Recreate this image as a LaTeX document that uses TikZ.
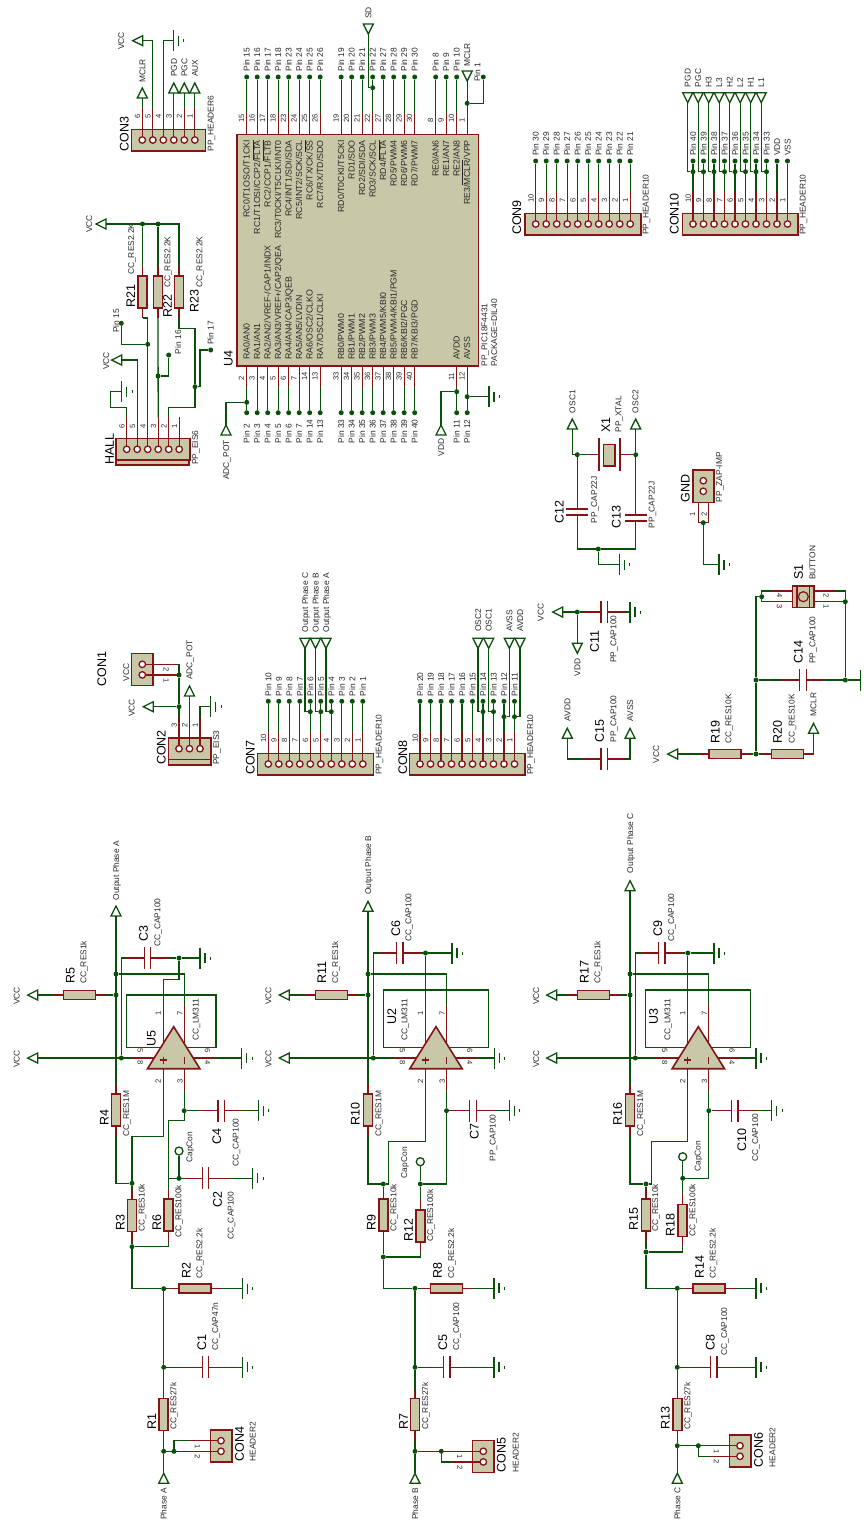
\documentclass[tikz,border=0pt]{standalone}
\usepackage{fontspec}
\setmainfont{Liberation Sans}
\usepackage{tikz}
\definecolor{wirecol}{RGB}{10,80,10}
\definecolor{pincol}{RGB}{135,20,20}
\definecolor{bodycol}{RGB}{200,200,168}
\definecolor{txtcol}{RGB}{40,40,40}
\tikzset{
    wire/.style={draw=wirecol, line width=1.3pt},
    pinline/.style={draw=pincol, line width=1.3pt},
    bodyline/.style={draw=pincol, fill=bodycol, line width=1.6pt},
    bodybox/.style={draw=pincol, fill=bodycol, line width=1.6pt, inner sep=0pt},
    termline/.style={draw=wirecol, fill=white, line width=1.3pt},
    dot/.style={circle, fill=wirecol, inner sep=0pt, minimum size=5pt},
    hole/.style={circle, draw=pincol, fill=white, line width=1.3pt, inner sep=0pt, minimum size=6.5pt},
    hollow/.style={circle, draw=wirecol, fill=white, line width=1.3pt, inner sep=0pt, minimum size=8pt},
    valtxt/.style={rotate=90, anchor=west, inner sep=0pt, text=txtcol, text height=6pt, text depth=0pt, font=\fontsize{8.4}{10}\selectfont},
    pintxt/.style={rotate=90, anchor=west, inner sep=0pt, text=txtcol, text height=6pt, text depth=0pt, font=\fontsize{8.8}{10}\selectfont},
    pinend/.style={pintxt, anchor=east},
    reftxt/.style={rotate=90, anchor=west, inner sep=0pt, text=black, text height=9pt, text depth=0pt, font=\fontsize{12.5}{14}\selectfont},
    numtxt/.style={rotate=90, anchor=west, inner sep=0pt, text=txtcol, text height=5pt, text depth=0pt, font=\fontsize{7.6}{9}\selectfont},
    numup/.style={numtxt, anchor=center},
    numdown/.style={rotate=270, anchor=center, inner sep=0pt, text=txtcol, text height=5pt, text depth=0pt, font=\fontsize{7.6}{9}\selectfont},
}
\newcommand{\resh}[3]{%
    \draw[pinline] (#2-26,#3) coordinate (#1a) -- (#2+26,#3) coordinate (#1b);
    \node[bodybox, minimum width=32pt, minimum height=9pt] (#1) at (#2,#3) {};}
\newcommand{\resv}[3]{%
    \draw[pinline] (#2,#3-26) coordinate (#1a) -- (#2,#3+26) coordinate (#1b);
    \node[bodybox, minimum width=9pt, minimum height=32pt] (#1) at (#2,#3) {};}
\newcommand{\caph}[3]{%
    \draw[pinline] (#2-21.2,#3) coordinate (#1a) -- (#2-3.2,#3) (#2-3.2,#3-11) -- (#2-3.2,#3+11);
    \draw[pinline] (#2+21.2,#3) coordinate (#1b) -- (#2+3.2,#3) (#2+3.2,#3-11) -- (#2+3.2,#3+11);}
\newcommand{\capv}[3]{%
    \draw[pinline] (#2,#3-21) coordinate (#1a) -- (#2,#3-3) (#2-11,#3-3) -- (#2+11,#3-3);
    \draw[pinline] (#2,#3+21) coordinate (#1b) -- (#2,#3+3) (#2-11,#3+3) -- (#2+11,#3+3);}
\newcommand{\gnd}[3]{%
    \coordinate (#1) at (#2,#3);
    \draw[wire] (#2,#3-10.5) -- (#2,#3+10.5);
    \draw[wire] (#2+5,#3-5) -- (#2+5,#3+5);
    \draw[wire] (#2+10.5,#3-1.5) -- (#2+10.5,#3+1.5);}
\newcommand{\termout}[5]{%
    \coordinate (#1) at (#2,#3);
    \draw[termline] ({#2+5*#5},{#3+5*#4}) -- ({#2+10*#4},{#3+10*#5}) -- ({#2-5*#5},{#3-5*#4}) -- cycle;}
\newcommand{\termin}[5]{%
    \coordinate (#1) at (#2,#3);
    \draw[termline] ({#2+10*#4+5*#5},{#3+10*#5+5*#4}) -- (#2,#3) -- ({#2+10*#4-5*#5},{#3+10*#5-5*#4}) -- cycle;}
\newcommand{\conn}[4]{%
    \draw[bodyline] (#2-10.7,#3-10.7) rectangle ({#2+(#4-1)*10.5+10.7},#3+10.7);
    \foreach \kk in {1,...,#4}{
        \pgfmathtruncatemacro{\nn}{#4-\kk+1}
        \pgfmathsetmacro{\px}{#2+(\kk-1)*10.5}
        \draw[pinline] (\px,#3) -- (\px,#3-32) coordinate (#1-\nn);
        \node[hole] (#1h\nn) at (\px,#3) {};
        \node[numtxt] (#1n\nn) at (\px-4.7,#3-21) {\nn};
    }}
\newcommand{\connh}[6]{%
    \pgfmathsetmacro{\ylow}{#3+10.6}
    \pgfmathsetmacro{\xnum}{#2+sign(#4)*23.7}
    \draw[bodyline] (#2-10.7,#3-10.7) rectangle (#2+10.7,\ylow+10.7);
    \draw[pinline] (#2,#3) -- ++(#4,0) coordinate (#1-#5);
    \draw[pinline] (#2,\ylow) -- ++(#4,0) coordinate (#1-#6);
    \node[hole] (#1h#5) at (#2,#3) {};
    \node[hole] (#1h#6) at (#2,\ylow) {};
    \node[numdown] (#1n#5) at (\xnum,#3+5.5) {#5};
    \node[numdown] (#1n#6) at (\xnum,\ylow+5.5) {#6};}
\newcommand{\opamp}[2]{%
    \draw[pinline] (#2-10.5,1044) -- (#2-10.5,1005) coordinate (#1-1);
    \draw[pinline] (#2+10.5,1044) -- (#2+10.5,1005) coordinate (#1-7);
    \draw[pinline] (#2-10.5,1068) -- (#2-10.5,1089.5) coordinate (#1-2);
    \draw[pinline] (#2+10.5,1068) -- (#2+10.5,1089.5) coordinate (#1-3);
    \draw[pinline] (#2-12,1047.3) -- (#2-42,1047.3) coordinate (#1-5);
    \draw[pinline] (#2+12,1047.3) -- (#2+42,1047.3) coordinate (#1-6);
    \draw[pinline] (#2-19,1058) -- (#2-42,1058) coordinate (#1-8);
    \draw[pinline] (#2+19,1058) -- (#2+42,1058) coordinate (#1-4);
    \draw[bodyline] (#2,1026.7) -- (#2-26.2,1068.7) -- (#2+26.2,1068.7) -- cycle;
    \draw[pinline] (#2-14,1060) -- (#2-7,1060) (#2-10.5,1056.5) -- (#2-10.5,1063.5);
    \draw[pinline] (#2+10.5,1056.5) -- (#2+10.5,1063.5);
    \node[numup] (#1n1) at (#2-15.4,1013) {1};
    \node[numup] (#1n7) at (#2+6.3,1013) {7};
    \node[numup] (#1n2) at (#2-15.4,1081.7) {2};
    \node[numup] (#1n3) at (#2+6.3,1081.7) {3};
    \node[numdown] (#1n5) at (#2-33.7,1051) {5};
    \node[numdown] (#1n8) at (#2-33.7,1062.7) {8};
    \node[numdown] (#1n6) at (#2+33.6,1051) {6};
    \node[numdown] (#1n4) at (#2+33.6,1062.7) {4};}
\newcommand{\parttext}[6]{%
    \node[reftxt] (#1ref) at (#2,#3) {#1};
    \node[valtxt] (#1val) at (#4,#5) {#6};}
\newcommand{\pinrow}[5]{%
    \node[dot] (#1d#2) at (#1-#2 |- 0,#3) {};
    \draw[wire] (#1-#2) -- (#1d#2);
    \node[valtxt] (#1t#2) at (#1d#2 |- 0,#4) {#5};}

\begin{document}
\begin{tikzpicture}[x=1pt, y=-1pt]
    \useasboundingbox (0,0) rectangle (863,1521);

    \node[bodybox, minimum width=241.6pt, minimum height=231.4pt] (U4) at (357.5,250) {};
    \foreach \kk/\pn/\pname in {0/15/{RC0/T1OSO/T1CKI}, 1/16/{RC1/T1OSI/CCP2/$\overline{\mbox{FLTA}}$},
        2/17/{RC2/CCP1/$\overline{\mbox{FLTB}}$}, 3/18/{RC3/T0CKI/T5CLKI/INT0}, 4/23/{RC4/INT1/SDI/SDA},
        5/24/{RC5/INT2/SCK/SCL}, 6/25/{RC6/TX/CK/$\overline{\mbox{SS}}$}, 7/26/{RC7/RX/TD/SDO},
        9/19/{RD0/T0CKI/T5CKI}, 10/20/{RD1/SDO}, 11/21/{RD2/SDI/SDA}, 12/22/{RD3/SCK/SCL},
        13/27/{RD4/$\overline{\mbox{FLTA}}$}, 14/28/{RD5/PWM4}, 15/29/{RD6/PWM6}, 16/30/{RD7/PWM7},
        18/8/{RE0/AN6}, 19/9/{RE1/AN7}, 20/10/{RE2/AN8}}{
        \pgfmathsetmacro{\px}{246.7+\kk*10.5}
        \draw[pinline] (\px,134.3) -- (\px,113.3) coordinate (U4-\pn);
        \node[numtxt] (U4n\pn) at (\px-5,123) {\pn};
        \node[pinend] (U4t\pn) at (\px,140) {\pname};
        \node[dot] (p\pn) at (\px,77) {};
        \draw[wire] (U4-\pn) -- (p\pn);
        \node[valtxt] (pl\pn) at (\px,71.7) {Pin \pn};
    }
    \foreach \kk/\pn/\pname in {0/2/{RA0/AN0}, 1/3/{RA1/AN1}, 2/4/{RA2/AN2/VREF-/CAP1/INDX},
        3/5/{RA3/AN3/VREF+/CAP2/QEA}, 4/6/{RA4/AN4/CAP3/QEB}, 5/7/{RA5/AN5/LVDIN},
        6/14/{RA6/OSC2/CLKO}, 7/13/{RA7/OSC1/CLKI}, 9/33/{RB0/PWM0}, 10/34/{RB1/PWM1},
        11/35/{RB2/PWM2}, 12/36/{RB3/PWM3}, 13/37/{RB4/PWM5/KBI0}, 14/38/{RB5/PWM4/KBI1/PGM},
        15/39/{RB6/KBI2/PGC}, 16/40/{RB7/KBI3/PGD}, 20/11/{AVDD}, 21/12/{AVSS}}{
        \pgfmathsetmacro{\px}{246.7+\kk*10.5}
        \draw[pinline] (\px,365.7) -- (\px,386.7) coordinate (U4-\pn);
        \node[numtxt] (U4n\pn) at (\px-5,381) {\pn};
        \node[pintxt] (U4t\pn) at (\px,360) {\pname};
        \node[dot] (p\pn) at (\px,412.7) {};
        \draw[wire] (U4-\pn) -- (p\pn);
        \node[valtxt] (pl\pn) at (\px,443.5) {Pin \pn};
    }
    \draw[pinline] (467.2,134.3) -- (467.2,113.3) coordinate (U4-1);
    \node[numtxt] (U4n1) at (462.2,123) {1};
    \node[pinend] (U4t1) at (467.2,140) {RE3/$\overline{\mbox{MCLR}}$/VPP};
    \node[reftxt] (U4ref) at (228,367) {U4};
    \node[valtxt] (U4val) at (484.3,366.7) {PP\_PIC18F4431};
    \node[valtxt] (U4pkg) at (494,366.7) {PACKAGE=DIL40};

    \termin{sdT}{368.3}{34}{0}{-1}
    \node[dot] (jSD) at (U4-22 |- 0,87.7) {};
    \draw[wire] (sdT) |- (jSD);
    \node[valtxt] (sdL) at (368.3,19) {SD};
    \termin{mclrT}{467.2}{81}{0}{-1}
    \node[dot] (jP1) at (467.2,103.3) {};
    \node[dot] (p1) at (483.3,77) {};
    \draw[wire] (mclrT) -- (U4-1);
    \draw[wire] (jP1) -| (p1);
    \node[valtxt] (mclrL) at (467.2,67) {MCLR};
    \node[valtxt] (pl1) at (477.3,82) {Pin 1};
    \termin{adcT}{226}{425}{0}{1}
    \node[dot] (jADC) at (U4-2 |- 0,402.3) {};
    \draw[wire] (adcT) |- (jADC);
    \node[valtxt] (adcL) at (226,480) {ADC\_POT};
    \termin{vddT}{441}{425}{0}{1}
    \node[dot] (jVDD) at (U4-11 |- 0,391.7) {};
    \draw[wire] (vddT) |- (jVDD);
    \node[valtxt] (vddL) at (441,456.7) {VDD};
    \gnd{gU4}{489}{396.7}
    \node[dot] (jVSS) at (U4-12 |- 0,396.7) {};
    \draw[wire] (jVSS) -- (gU4);

    \conn{CON3}{142.3}{140}{6}
    \parttext{CON3}{124}{151.7}{210.7}{151.7}{PP\_HEADER6}
    \termout{mclr3}{142.3}{98}{0}{-1}
    \termout{vcc3}{142.7}{40.7}{-1}{0}
    \gnd{g3}{173.3}{40.7}
    \termout{pgd3}{173.8}{93}{0}{-1}
    \termout{pgc3}{184.3}{93}{0}{-1}
    \termout{aux3}{194.8}{93}{0}{-1}
    \draw[wire] (CON3-6) -- (mclr3);
    \draw[wire] (CON3-5) |- (vcc3);
    \draw[wire] (CON3-4) |- (g3);
    \draw[wire] (CON3-3) -- (pgd3);
    \draw[wire] (CON3-2) -- (pgc3);
    \draw[wire] (CON3-1) -- (aux3);
    \node[valtxt] (mclr3L) at (142.3,83) {MCLR};
    \node[valtxt] (vcc3L) at (121,50) {VCC};
    \node[valtxt] (pgd3L) at (173.8,77) {PGD};
    \node[valtxt] (pgc3L) at (184.3,77) {PGC};
    \node[valtxt] (aux3L) at (194.8,77) {AUX};

    \conn{HALL}{126.7}{449.3}{6}
    \draw[bodyline] (116,460) rectangle (189.2,465);
    \parttext{HALL}{109.3}{465}{195}{465}{PP\_EIS6}
    \resv{R21}{142.5}{292}
    \resv{R22}{158}{292}
    \resv{R23}{179}{292}
    \parttext{R21}{130.7}{308}{131}{275}{CC\_RES2.2K}
    \parttext{R22}{167.3}{318}{167.3}{288}{CC\_RES2.2K}
    \parttext{R23}{194}{313}{199.3}{288}{CC\_RES2.2K}
    \termout{vccR}{106}{224}{-1}{0}
    \node[valtxt] (vccRL) at (89,233) {VCC};
    \node[dot] (jH1) at (142.5,224) {};
    \node[dot] (jH2) at (158,224) {};
    \draw[wire] (vccR) -| (R23a);
    \draw[wire] (jH1) -- (R21a);
    \draw[wire] (jH2) -- (R22a);
    \gnd{gHall}{121.7}{391.7}
    \coordinate (hA) at (110.7,407.3);
    \draw[wire] (HALL-6) |- (hA) |- (gHall);
    \termout{vccH}{121.7}{360}{-1}{0}
    \node[valtxt] (vccHL) at (106,370) {VCC};
    \draw[wire] (HALL-5) |- (vccH);
    \node[dot] (jH3) at (147.7,344.3) {};
    \node[dot] (h15) at (121.3,323.3) {};
    \node[valtxt] (h15L) at (116,333) {Pin 15};
    \draw[wire] (R21b) -| (HALL-4);
    \draw[wire] (jH3) -| (h15);
    \node[dot] (jH4) at (158,376) {};
    \node[dot] (h16) at (168.7,355) {};
    \node[valtxt] (h16L) at (178,354.3) {Pin 16};
    \draw[wire] (R22b) -- (HALL-3);
    \draw[wire] (jH4) -| (h16);
    \node[dot] (jH5) at (195,386.7) {};
    \node[dot] (h17) at (210.7,350) {};
    \node[valtxt] (h17L) at (210.7,345) {Pin 17};
    \coordinate (hB) at (195,328.3);
    \coordinate (hC) at (195,407.3);
    \coordinate (hD) at (200,386.7);
    \draw[wire] (R23b) |- (hB) -- (jH5);
    \draw[wire] (HALL-2) |- (hC) -- (jH5);
    \draw[wire] (jH5) -- (hD) |- (h17);

    \conn{CON9}{535.7}{224}{10}
    \parttext{CON9}{516.7}{235}{645.7}{235}{PP\_HEADER10}
    \foreach \kk in {1,...,10}{
        \pgfmathtruncatemacro{\pp}{\kk+20}
        \pinrow{CON9}{\kk}{161}{156}{Pin \pp}
    }
    \conn{CON10}{693}{224}{10}
    \parttext{CON10}{674}{235}{802.7}{235}{PP\_HEADER10}
    \foreach \kk in {3,...,10}{
        \pgfmathtruncatemacro{\pp}{\kk+30}
        \pinrow{CON10}{\kk}{161}{156}{Pin \pp}
    }
    \pinrow{CON10}{2}{161}{156}{VDD}
    \pinrow{CON10}{1}{161}{156}{VSS}
    \foreach \kk/\xx/\nm in {10/687.7/PGD, 9/698.2/PGC, 8/708.7/H3, 7/719.2/L3, 6/729.7/H2, 5/740.2/L2, 4/750.7/H1, 3/761.2/L1}{
        \termin{t10\kk}{\xx}{102.7}{0}{-1}
        \node[dot] (j10\kk) at (CON10-\kk |- 0,171.7) {};
        \draw[wire] (t10\kk) |- (j10\kk);
        \node[valtxt] (t10\kk L) at (\xx,87.3) {\nm};
    }

    \connh{CON1}{142.3}{664.3}{36.7}{2}{1}
    \node[reftxt] (CON1ref) at (101.7,686.7) {CON1};
    \node[valtxt] (CON1val) at (126,681.7) {VCC};
    \conn{CON2}{179}{748.7}{3}
    \draw[bodyline] (168.3,759.4) rectangle (210.7,764.7);
    \parttext{CON2}{161}{765}{216}{765}{PP\_EIS3}
    \node[dot] (jK1) at (179,675) {};
    \node[dot] (jK2) at (179,706.7) {};
    \termout{vccK}{153.3}{706.7}{-1}{0}
    \termout{adcK}{189.5}{696}{0}{-1}
    \gnd{gK}{210.7}{706.7}
    \draw[wire] (CON1-2) -| (jK1);
    \draw[wire] (CON1-1) -- (jK1) -- (jK2) -- (CON2-3);
    \draw[wire] (jK2) -- (vccK);
    \draw[wire] (CON2-2) -- (adcK);
    \draw[wire] (CON2-1) |- (gK);
    \node[valtxt] (vccKL) at (131.7,717) {VCC};
    \node[valtxt] (adcKL) at (189.3,680) {ADC\_POT};

    \conn{CON7}{268.3}{764}{10}
    \parttext{CON7}{250}{775}{378.7}{775}{PP\_HEADER10}
    \foreach \kk in {1,...,10}{
        \pinrow{CON7}{\kk}{701.3}{696.5}{Pin \kk}
    }
    \foreach \kk/\xx/\nm in {6/305/C, 5/315.5/B, 4/326/A}{
        \termin{t7\kk}{\xx}{648.3}{0}{-1}
        \node[dot] (j7\kk) at (CON7-\kk |- 0,711.7) {};
        \draw[wire] (t7\kk) |- (j7\kk);
        \node[valtxt] (t7\kk L) at (\xx,632.7) {Output Phase \nm};
    }
    \conn{CON8}{420}{764}{10}
    \parttext{CON8}{402.5}{775}{530}{775}{PP\_HEADER10}
    \foreach \kk in {1,...,10}{
        \pgfmathtruncatemacro{\pp}{\kk+10}
        \pinrow{CON8}{\kk}{701.3}{696.5}{Pin \pp}
    }
    \foreach \kk/\xx/\yy/\nm in {4/478/711.7/OSC2, 3/488.7/711.7/OSC1, 2/509.3/716.7/AVSS, 1/520/716.7/AVDD}{
        \termin{t8\kk}{\xx}{648.3}{0}{-1}
        \node[dot] (j8\kk) at (CON8-\kk |- 0,\yy) {};
        \draw[wire] (t8\kk) |- (j8\kk);
        \node[valtxt] (t8\kk L) at (\xx,632) {\nm};
    }

    \draw[pinline] (588,454.7) coordinate (X1a) -- (599,454.7) (599,438) -- (599,470.7);
    \draw[pinline] (631,454.7) coordinate (X1b) -- (620,454.7) (620,438) -- (620,470.7);
    \node[bodybox, minimum width=11.7pt, minimum height=21.4pt] (X1) at (609.2,455) {};
    \parttext{X1}{605.7}{432.7}{618.3}{432.7}{PP\_XTAL}
    \termout{osc1T}{572.3}{429}{0}{-1}
    \termout{osc2T}{635.7}{429}{0}{-1}
    \node[valtxt] (osc1L) at (572.3,413.3) {OSC1};
    \node[valtxt] (osc2L) at (635.3,413.3) {OSC2};
    \node[dot] (jX1) at (577.3,454.7) {};
    \node[dot] (jX2) at (635.7,454.7) {};
    \draw[wire] (osc1T) |- (jX1) -- (X1a);
    \draw[wire] (osc2T) -- (jX2) -- (X1b);
    \capv{C12}{577.3}{512}
    \capv{C13}{635.7}{518}
    \parttext{C12}{559}{523.3}{594}{523.3}{PP\_CAP22J}
    \parttext{C13}{616}{528.3}{651.7}{528.3}{PP\_CAP22J}
    \node[dot] (jX3) at (598.3,549) {};
    \gnd{gX}{619.3}{564.7}
    \draw[wire] (jX1) -- (C12a);
    \draw[wire] (jX2) -- (C13a);
    \draw[wire] (C12b) |- (jX3);
    \draw[wire] (C13b) |- (jX3);
    \draw[wire] (jX3) |- (gX);

    \draw[bodyline] (692.7,470) rectangle (714,502.3);
    \node[hole] (gcA) at (703.3,480.7) {};
    \node[hole] (gcB) at (703.3,491.3) {};
    \draw[pinline] (698.3,502.3) -- (698.3,522.7) -- (708.7,522.7) -- (708.7,502.3);
    \node[numup] (gcN1) at (692.7,514.3) {1};
    \node[numup] (gcN2) at (704.3,514.3) {2};
    \node[dot] (jGnd) at (703.3,522.7) {};
    \gnd{gGnd}{719}{564.7}
    \draw[wire] (jGnd) |- (gGnd);
    \node[reftxt] (GNDref) at (685,502.3) {GND};
    \node[valtxt] (GNDval) at (719,502.3) {PP\_ZAP-IMP};

    \caph{C11}{604.2}{612}
    \parttext{C11}{594.3}{653}{613.3}{663}{PP\_CAP100}
    \termout{vccC11}{562.7}{612}{-1}{0}
    \termout{vddC11}{577.3}{643.3}{0}{1}
    \node[dot] (jC11) at (577.3,612) {};
    \gnd{gC11}{630}{612}
    \draw[wire] (vccC11) -- (jC11) -- (C11a);
    \draw[wire] (jC11) -- (vddC11);
    \draw[wire] (C11b) -- (gC11);
    \node[valtxt] (vccC11L) at (540.7,621.7) {VCC};
    \node[valtxt] (vddC11L) at (577.3,676.7) {VDD};

    \caph{C15}{604.2}{759}
    \parttext{C15}{599.3}{742.7}{613.3}{742.7}{PP\_CAP100}
    \termout{avddT}{567.3}{738.3}{0}{-1}
    \termout{avssT}{630}{738.3}{0}{-1}
    \draw[wire] (avddT) |- (C15a);
    \draw[wire] (avssT) |- (C15b);
    \node[valtxt] (avddL) at (567.3,721.7) {AVDD};
    \node[valtxt] (avssL) at (630,721.7) {AVSS};

    \resh{R19}{724.7}{754}
    \resh{R20}{787.5}{754}
    \parttext{R19}{715}{743.3}{728.3}{743.3}{CC\_RES10K}
    \parttext{R20}{777.3}{743.3}{791.7}{743.3}{CC\_RES10K}
    \termout{vccRst}{677.7}{754}{-1}{0}
    \termout{mclrR}{813.5}{733.3}{0}{-1}
    \node[valtxt] (vccRstL) at (656,763.3) {VCC};
    \node[valtxt] (mclrRL) at (813.3,716.7) {MCLR};
    \node[dot] (jR) at (756,754) {};
    \node[dot] (jK3) at (756,680) {};
    \node[dot] (jS1) at (761.7,596.7) {};
    \node[dot] (jS2) at (845.3,601.7) {};
    \node[dot] (jS3) at (845.3,680) {};
    \caph{C14}{803}{680}
    \parttext{C14}{798}{664}{812.3}{664}{PP\_CAP100}
    \draw[pinline] (792.7,591) -- (771.7,591) coordinate (S1-4);
    \draw[pinline] (792.7,601.7) -- (771.7,601.7) coordinate (S1-3);
    \draw[pinline] (814,591) -- (835,591) coordinate (S1-2);
    \draw[pinline] (814,601.7) -- (835,601.7) coordinate (S1-1);
    \node[bodybox, minimum width=21.3pt, minimum height=21.3pt] (S1) at (803.3,596.7) {};
    \draw[pinline] (796.9,586) -- (796.9,607.3) (809.7,586) -- (809.7,607.3);
    \node[circle, draw=pincol, fill=bodycol, line width=1.2pt, inner sep=0pt, minimum size=10pt] (S1c) at (803.3,596.7) {};
    \parttext{S1}{798.3}{580}{812.3}{580}{BUTTON}
    \node[numdown] (S1n4) at (779.3,596) {4};
    \node[numdown] (S1n3) at (779.3,606.7) {3};
    \node[numdown] (S1n2) at (826,596) {2};
    \node[numdown] (S1n1) at (826,606.7) {1};
    \draw[wire] (vccRst) -- (R19a);
    \draw[wire] (R19b) -- (jR) -- (R20a);
    \draw[wire] (R20b) -| (mclrR);
    \draw[wire] (jR) -- (jK3) |- (jS1);
    \draw[wire] (jK3) -- (C14a);
    \draw[wire] (C14b) -- (jS3);
    \draw[wire] (S1-4) -| (jS1);
    \draw[wire] (S1-3) -| (jS1);
    \draw[wire] (S1-2) -| (jS2);
    \draw[wire] (S1-1) -- (jS2) -- (jS3);
    \coordinate (gS) at (860.7,680);
    \draw[wire] (jS3) -- (gS) (860.7,669.5) -- (860.7,690.5);

    \opamp{U5}{173.7}
    \parttext{U5}{151}{1046.7}{195.7}{1040.7}{CC\_LM311}
    \termout{outA}{116}{916}{0}{-1}
    \node[valtxt] (outAL) at (116,900.7) {Output Phase A};
    \resh{R5}{79.3}{995}
    \parttext{R5}{70}{984}{83.3}{984}{CC\_RES1k}
    \termout{vccA}{37.7}{995}{-1}{0}
    \termout{vccA2}{37.7}{1058}{-1}{0}
    \node[valtxt] (vccAL) at (16.7,1005) {VCC};
    \node[valtxt] (vccA2L) at (16.7,1068) {VCC};
    \node[dot] (jA1) at (116,974) {};
    \node[dot] (jA2) at (116,995) {};
    \node[dot] (jA3) at (121.3,1058) {};
    \node[dot] (jA4) at (179,958) {};
    \caph{C3}{147.5}{958}
    \parttext{C3}{143.3}{941.7}{157.3}{946.7}{CC\_CAP100}
    \gnd{gC3}{200}{958}
    \resv{R4}{116}{1110}
    \parttext{R4}{104}{1126}{126}{1136.7}{CC\_RES1M}
    \coordinate (bA1) at (126.7,995);
    \coordinate (bA2) at (216,995);
    \coordinate (sA) at (179,979.3);
    \coordinate (tA) at (132,1136.7);
    \gnd{gU5}{241.7}{1058}
    \node[dot] (jA5) at (132,1183.3) {};
    \resv{R3}{132}{1215.5}
    \parttext{R3}{120}{1231}{141.7}{1231.7}{CC\_RES10k}
    \resv{R6}{168.5}{1215}
    \parttext{R6}{156.7}{1231}{178.3}{1237.3}{CC\_RES100k}
    \node[dot] (jA6) at (132,1246.7) {};
    \node[dot] (jA7) at (184.2,1110.7) {};
    \node[dot] (jA8) at (179,1178.3) {};
    \node[hollow] (capA) at (179,1151) {};
    \node[valtxt] (capAL) at (189.3,1162.7) {CapCon};
    \caph{C4}{221.2}{1110.7}
    \parttext{C4}{216.7}{1145}{235.7}{1166.7}{CC\_CAP100}
    \gnd{gC4}{258.3}{1110.7}
    \caph{C2}{205.5}{1178.3}
    \parttext{C2}{217.3}{1208}{230.7}{1240}{CC\_CAP100}
    \gnd{gC2}{252.7}{1178.3}
    \coordinate (rA) at (168.5,1120.7);
    \node[dot] (jA9) at (163.7,1288.7) {};
    \resh{R2}{194.8}{1288.7}
    \parttext{R2}{186}{1278.3}{199.3}{1278.3}{CC\_RES2.2k}
    \gnd{gR2}{242.3}{1288.7}
    \node[dot] (jA10) at (163.7,1367.3) {};
    \caph{C1}{205.5}{1367.3}
    \parttext{C1}{201.7}{1350.7}{215}{1350.7}{CC\_CAP47n}
    \gnd{gC1}{242.3}{1367.3}
    \resv{R1}{163.7}{1414.5}
    \parttext{R1}{151.7}{1430}{173.3}{1430}{CC\_RES27k}
    \node[dot] (jA11) at (163.7,1451.3) {};
    \node[dot] (jA12) at (174,1451.3) {};
    \termin{inA}{163.7}{1473.3}{0}{1}
    \node[valtxt] (inAL) at (163.7,1520) {Phase A};
    \connh{CON4}{221}{1440.7}{-31}{1}{2}
    \parttext{CON4}{239.3}{1461.7}{252.7}{1461.7}{HEADER2}
    \draw[wire] (outA) -- (R4a);
    \draw[wire] (vccA) -- (R5a);
    \draw[wire] (R5b) -- (jA2);
    \draw[wire] (vccA2) -- (U5-8);
    \draw[wire] (jA1) -| (U5-7);
    \draw[wire] (jA3) |- (C3a);
    \draw[wire] (C3b) -- (jA4) -- (gC3);
    \draw[wire] (U5-1) |- (sA) -- (jA4);
    \draw[wire] (U5-5) -| (bA1) -- (bA2) |- (U5-6);
    \draw[wire] (U5-4) -- (gU5);
    \draw[wire] (U5-2) |- (tA) -- (jA5);
    \draw[wire] (R4b) |- (jA5);
    \draw[wire] (jA5) -- (R3a);
    \draw[wire] (R3b) -- (jA6);
    \draw[wire] (R6b) |- (jA6);
    \draw[wire] (U5-3) -- (jA7) |- (rA) -- (R6a);
    \draw[wire] (jA7) -- (C4a);
    \draw[wire] (C4b) -- (gC4);
    \draw[wire] (capA) -- (jA8);
    \draw[wire] (R6a |- jA8) -- (C2a);
    \draw[wire] (C2b) -- (gC2);
    \draw[wire] (jA6) |- (jA9);
    \draw[wire] (jA9) -- (R2a);
    \draw[wire] (R2b) -- (gR2);
    \draw[wire] (jA9) -- (jA10) -- (R1a);
    \draw[wire] (jA10) -- (C1a);
    \draw[wire] (C1b) -- (gC1);
    \draw[wire] (R1b) -- (jA11) -- (inA);
    \draw[wire] (CON4-1) -| (jA12);
    \draw[wire] (CON4-2) -- (jA11);

    \opamp{U2}{436}
    \parttext{U2}{391.7}{1025}{404.3}{1040.7}{CC\_LM311}
    \termout{outB}{368}{911.3}{0}{-1}
    \node[valtxt] (outBL) at (368,895) {Output Phase B};
    \resh{R11}{331.3}{995}
    \parttext{R11}{321.7}{984}{335}{984}{CC\_RES1k}
    \termout{vccB}{289.3}{995}{-1}{0}
    \termout{vccB2}{289.3}{1058}{-1}{0}
    \node[valtxt] (vccBL) at (268.3,1005) {VCC};
    \node[valtxt] (vccB2L) at (268.3,1068) {VCC};
    \node[dot] (jB1) at (368,974) {};
    \node[dot] (jB2) at (368,995) {};
    \node[dot] (jB3) at (373.3,1058) {};
    \node[dot] (jB4) at (425.5,953) {};
    \caph{C6}{399.7}{953}
    \parttext{C6}{395.7}{936.7}{408.3}{941.7}{CC\_CAP100}
    \gnd{gC6}{452}{953}
    \resv{R10}{368}{1110}
    \parttext{R10}{355}{1126}{378.3}{1136.7}{CC\_RES1M}
    \coordinate (bB1) at (383.7,990);
    \coordinate (bB2) at (488.7,990);
    \coordinate (tB) at (388.8,1141.7);
    \gnd{gU2}{494.3}{1058}
    \node[dot] (jB5) at (383.3,1184) {};
    \resv{R9}{383.3}{1215}
    \parttext{R9}{371}{1231}{393.3}{1231.7}{CC\_RES10k}
    \resv{R12}{420.3}{1225.8}
    \parttext{R12}{408.3}{1241.7}{430}{1241.7}{CC\_RES100k}
    \node[dot] (jB6) at (383.3,1257) {};
    \node[dot] (jB7) at (446.5,1110.7) {};
    \node[dot] (jB8) at (420.3,1184) {};
    \node[hollow] (capB) at (420.3,1161.7) {};
    \node[valtxt] (capBL) at (404,1178.3) {CapCon};
    \caph{C7}{473}{1110.7}
    \parttext{C7}{474}{1140}{492.7}{1161.7}{PP\_CAP100}
    \gnd{gC7}{509.3}{1110.7}
    \node[dot] (jB9) at (415,1288.3) {};
    \resh{R8}{446.5}{1288.3}
    \parttext{R8}{437.3}{1278.3}{451}{1278.3}{CC\_RES2.2k}
    \gnd{gR8}{494}{1288.3}
    \node[dot] (jB10) at (415,1367.3) {};
    \caph{C5}{446.7}{1367.3}
    \parttext{C5}{442.7}{1350.7}{456}{1350.7}{CC\_CAP100}
    \gnd{gC5}{494}{1367.3}
    \resv{R7}{415}{1414.5}
    \parttext{R7}{403.3}{1430}{425}{1430}{CC\_RES27k}
    \node[dot] (jB11) at (415,1451.3) {};
    \node[dot] (jB12) at (441.3,1451.3) {};
    \termin{inB}{415}{1473.3}{0}{1}
    \node[valtxt] (inBL) at (415,1520) {Phase B};
    \connh{CON5}{483.3}{1451.3}{-31}{1}{2}
    \parttext{CON5}{501}{1472.7}{515.7}{1472.7}{HEADER2}
    \draw[wire] (outB) -- (R10a);
    \draw[wire] (vccB) -- (R11a);
    \draw[wire] (R11b) -- (jB2);
    \draw[wire] (vccB2) -- (U2-8);
    \draw[wire] (jB1) -| (U2-7);
    \draw[wire] (jB3) |- (C6a);
    \draw[wire] (C6b) -- (jB4) -- (gC6);
    \draw[wire] (U2-1) -- (jB4);
    \draw[wire] (U2-5) -| (bB1) -- (bB2) |- (U2-6);
    \draw[wire] (U2-4) -- (gU2);
    \draw[wire] (U2-2) |- (tB) |- (jB5);
    \draw[wire] (R10b) |- (jB5);
    \draw[wire] (jB5) -- (R9a);
    \draw[wire] (R9b) -- (jB6);
    \draw[wire] (R12b) |- (jB6);
    \draw[wire] (U2-3) -- (jB7) |- (jB8) -- (R12a);
    \draw[wire] (jB7) -- (C7a);
    \draw[wire] (C7b) -- (gC7);
    \draw[wire] (capB) -- (jB8);
    \draw[wire] (jB6) |- (jB9);
    \draw[wire] (jB9) -- (R8a);
    \draw[wire] (R8b) -- (gR8);
    \draw[wire] (jB9) -- (jB10) -- (R7a);
    \draw[wire] (jB10) -- (C5a);
    \draw[wire] (C5b) -- (gC5);
    \draw[wire] (R7b) -- (jB11) -- (inB);
    \draw[wire] (CON5-1) -- (jB11);
    \draw[wire] (CON5-2) -| (jB12);

    \opamp{U3}{698.3}
    \parttext{U3}{653.3}{1025}{667.3}{1040.7}{CC\_LM311}
    \termout{outC}{630}{890.7}{0}{-1}
    \node[valtxt] (outCL) at (630,873.3) {Output Phase C};
    \resh{R17}{593.3}{995}
    \parttext{R17}{584}{984}{597.3}{984}{CC\_RES1k}
    \termout{vccC}{556.7}{995}{-1}{0}
    \termout{vccC2}{556.7}{1058}{-1}{0}
    \node[valtxt] (vccCL) at (536,1005) {VCC};
    \node[valtxt] (vccC2L) at (536,1068) {VCC};
    \node[dot] (jC1) at (630,974) {};
    \node[dot] (jC2) at (630,995) {};
    \node[dot] (jC3) at (635.3,1058) {};
    \node[dot] (jC4) at (687.8,953) {};
    \caph{C9}{661.8}{953}
    \parttext{C9}{657.7}{936.7}{671}{941.7}{CC\_CAP100}
    \gnd{gC9}{714}{953}
    \resv{R16}{630}{1110}
    \parttext{R16}{617.3}{1126}{640}{1136.7}{CC\_RES1M}
    \coordinate (bC1) at (645.7,990);
    \coordinate (bC2) at (750.7,990);
    \coordinate (tC) at (651.3,1141.7);
    \gnd{gU3}{756}{1058}
    \node[dot] (jC5) at (646,1184) {};
    \resv{R15}{646}{1215}
    \parttext{R15}{633.3}{1231}{655}{1231.7}{CC\_RES10k}
    \resv{R18}{682.7}{1220.3}
    \parttext{R18}{670}{1236.3}{692.3}{1236.3}{CC\_RES100k}
    \node[dot] (jC6) at (646,1252) {};
    \node[dot] (jC7) at (708.8,1110.7) {};
    \node[dot] (jC8) at (682.7,1178.3) {};
    \node[hollow] (capC) at (682.7,1156.7) {};
    \node[valtxt] (capCL) at (697.7,1171.7) {CapCon};
    \caph{C10}{734.7}{1110.7}
    \parttext{C10}{741.7}{1151.7}{755}{1161.7}{CC\_CAP100}
    \gnd{gC10}{771.7}{1110.7}
    \node[dot] (jC9) at (677.3,1288.3) {};
    \resh{R14}{708.8}{1288.3}
    \parttext{R14}{699.3}{1278.3}{712.7}{1278.3}{CC\_RES2.2k}
    \gnd{gR14}{756}{1288.3}
    \node[dot] (jC10) at (677.3,1367.3) {};
    \caph{C8}{713.8}{1367.3}
    \parttext{C8}{710}{1350.7}{724}{1355.7}{CC\_CAP100}
    \gnd{gC8}{756}{1367.3}
    \resv{R13}{677.3}{1414.5}
    \parttext{R13}{665}{1430}{687.3}{1430}{CC\_RES27k}
    \node[dot] (jC11a) at (677.3,1445.7) {};
    \node[dot] (jC12) at (698.3,1445.7) {};
    \termin{inC}{677.3}{1473.3}{0}{1}
    \node[valtxt] (inCL) at (677.3,1520) {Phase C};
    \connh{CON6}{740}{1445.7}{-31}{1}{2}
    \parttext{CON6}{758.3}{1467.3}{772.3}{1467.3}{HEADER2}
    \draw[wire] (outC) -- (R16a);
    \draw[wire] (vccC) -- (R17a);
    \draw[wire] (R17b) -- (jC2);
    \draw[wire] (vccC2) -- (U3-8);
    \draw[wire] (jC1) -| (U3-7);
    \draw[wire] (jC3) |- (C9a);
    \draw[wire] (C9b) -- (jC4) -- (gC9);
    \draw[wire] (U3-1) -- (jC4);
    \draw[wire] (U3-5) -| (bC1) -- (bC2) |- (U3-6);
    \draw[wire] (U3-4) -- (gU3);
    \draw[wire] (U3-2) |- (tC) |- (jC5);
    \draw[wire] (R16b) |- (jC5);
    \draw[wire] (jC5) -- (R15a);
    \draw[wire] (R15b) -- (jC6);
    \draw[wire] (R18b) |- (jC6);
    \draw[wire] (U3-3) -- (jC7) |- (jC8) -- (R18a);
    \draw[wire] (jC7) -- (C10a);
    \draw[wire] (C10b) -- (gC10);
    \draw[wire] (capC) -- (jC8);
    \draw[wire] (jC6) |- (jC9);
    \draw[wire] (jC9) -- (R14a);
    \draw[wire] (R14b) -- (gR14);
    \draw[wire] (jC9) -- (jC10) -- (R13a);
    \draw[wire] (jC10) -- (C8a);
    \draw[wire] (C8b) -- (gC8);
    \draw[wire] (R13b) -- (jC11a) -- (inC);
    \draw[wire] (CON6-1) -- (jC11a);
    \draw[wire] (CON6-2) -| (jC12);
\end{tikzpicture}
\end{document}
